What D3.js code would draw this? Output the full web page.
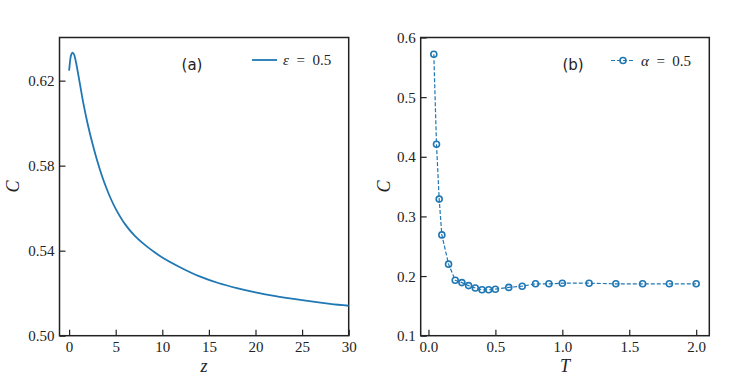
<!DOCTYPE html>
<html>
<head>
<meta charset="utf-8">
<script src="https://cdn.jsdelivr.net/npm/d3@7"></script>
<style>
  body { margin: 0; background: #fff; }
  .tick text { font-family: "Liberation Serif", "DejaVu Serif", serif; font-size: 15px; fill: #222; }
  .tick line { stroke: #222; stroke-width: 1.2; }
</style>
</head>
<body>
<div id="container-svg"></div>
<script>
// ---------------- data ----------------
// panel (a): C vs z, epsilon = 0.5
var z_vals = [0, 0.1, 0.2, 0.35, 0.5, 0.7, 1.0, 1.5, 2.0, 2.5, 3.0, 3.5, 4.0, 4.5, 5, 6, 7, 8, 9, 10, 12, 14, 16, 18, 20, 22, 25, 28, 30];
var c_a_vals = [0.6247, 0.6290, 0.6318, 0.6332, 0.6326, 0.6295, 0.6225, 0.6100, 0.5995, 0.5905, 0.5825, 0.5755, 0.5695, 0.5642, 0.5597, 0.5525, 0.5472, 0.5432, 0.5398, 0.5368, 0.5320, 0.5279, 0.5248, 0.5224, 0.5204, 0.5187, 0.5167, 0.5150, 0.5141];

// panel (b): C vs T, alpha = 0.5
var t_vals = [0.04, 0.06, 0.08, 0.10, 0.15, 0.20, 0.25, 0.30, 0.35, 0.40, 0.45, 0.50, 0.60, 0.70, 0.80, 0.90, 1.00, 1.20, 1.40, 1.60, 1.80, 2.00];
var c_b_vals = [0.572, 0.421, 0.329, 0.269, 0.220, 0.193, 0.189, 0.184, 0.180, 0.177, 0.177, 0.178, 0.181, 0.183, 0.187, 0.187, 0.188, 0.188, 0.187, 0.187, 0.187, 0.187];

var ticks_a_x = [0, 5, 10, 15, 20, 25, 30];
var ticks_a_y = [0.50, 0.54, 0.58, 0.62];
var ticks_b_x = [0.0, 0.5, 1.0, 1.5, 2.0];
var ticks_b_y = [0.1, 0.2, 0.3, 0.4, 0.5, 0.6];

var data_a = z_vals.map(function(z, i) { return {x: z, y: c_a_vals[i]}; });
var data_b = t_vals.map(function(t, i) { return {x: t, y: c_b_vals[i]}; });

var color_line = "#1f77b4",
    color_axis = "#222",
    font_serif = "'Liberation Serif', 'DejaVu Serif', serif";

// ---------------- svg ----------------
var svg_width = 747, svg_height = 386;
var svg = d3.select("#container-svg").append("svg")
    .attr("width", svg_width)
    .attr("height", svg_height);

var Y_TOP = 37.5, Y_BOT = 335.7;

function drawPanel(opt) {
    var g = svg.append("g");
    var sx = d3.scaleLinear().domain(opt.xdom).range([opt.x0, opt.x1]);
    var sy = d3.scaleLinear().domain(opt.ydom).range([Y_BOT, Y_TOP]);

    var ax = g.append("g")
        .attr("transform", "translate(0," + Y_BOT + ")")
        .call(d3.axisBottom(sx).tickValues(opt.xticks).tickFormat(opt.xfmt)
            .tickSizeInner(-6).tickSizeOuter(0).tickPadding(6));
    ax.select(".domain").remove();

    var ay = g.append("g")
        .attr("transform", "translate(" + opt.x0 + ",0)")
        .call(d3.axisLeft(sy).tickValues(opt.yticks).tickFormat(opt.yfmt)
            .tickSizeInner(-6).tickSizeOuter(0).tickPadding(5));
    ay.select(".domain").remove();
    ay.selectAll("text").attr("dy", "0.34em");

    g.selectAll(".tick text").style("font-family", font_serif).style("font-size", "15px");

    // frame
    g.append("rect")
        .attr("x", opt.x0).attr("y", Y_TOP)
        .attr("width", opt.x1 - opt.x0).attr("height", Y_BOT - Y_TOP)
        .attr("fill", "none").attr("stroke", color_axis).attr("stroke-width", 1.5);

    // axis labels
    g.append("text")
        .attr("x", (opt.x0 + opt.x1) / 2).attr("y", 372)
        .attr("text-anchor", "middle")
        .style("font-family", font_serif).style("font-style", "italic")
        .style("font-size", "18px").style("fill", color_axis)
        .text(opt.xlabel);
    g.append("text")
        .attr("transform", "translate(" + opt.ylabel_x + "," + ((Y_TOP + Y_BOT) / 2) + ") rotate(-90)")
        .attr("text-anchor", "middle")
        .style("font-family", font_serif).style("font-style", "italic")
        .style("font-size", "18px").style("fill", color_axis)
        .text("C");

    // panel tag
    g.append("text")
        .attr("x", opt.tag_x).attr("y", 65).attr("dy", "0.35em")
        .attr("text-anchor", "middle")
        .style("font-family", "'DejaVu Sans', sans-serif")
        .style("font-size", "15px").style("fill", color_axis)
        .text(opt.tag);

    return {g: g, sx: sx, sy: sy};
}

// ---------------- panel (a) ----------------
var pa = drawPanel({
    x0: 59.5, x1: 348.7, xdom: [-1.03, 30], ydom: [0.50, 0.6403],
    xticks: ticks_a_x, yticks: ticks_a_y,
    xfmt: d3.format("d"), yfmt: d3.format(".2f"),
    xlabel: "z", ylabel_x: 19, tag: "(a)", tag_x: 192
});

var line_a = d3.line()
    .x(function(d) { return pa.sx(d.x); })
    .y(function(d) { return pa.sy(d.y); })
    .curve(d3.curveCatmullRom.alpha(0.5));

pa.g.append("path")
    .datum(data_a)
    .attr("d", line_a)
    .attr("fill", "none")
    .attr("stroke", color_line)
    .attr("stroke-width", 1.8);

// legend (a)
pa.g.append("line")
    .attr("x1", 252).attr("x2", 277).attr("y1", 60).attr("y2", 60)
    .attr("stroke", color_line).attr("stroke-width", 1.8);
var lega = pa.g.append("text")
    .attr("x", 283).attr("y", 60).attr("dy", "0.35em")
    .style("font-family", font_serif).style("font-size", "15px").style("fill", color_axis);
lega.append("tspan").style("font-style", "italic").text("ε");
lega.append("tspan").text("\u2002=\u20020.5");

// ---------------- panel (b) ----------------
var pb = drawPanel({
    x0: 420.7, x1: 709.3, xdom: [-0.058, 2.098], ydom: [0.1, 0.6],
    xticks: ticks_b_x, yticks: ticks_b_y,
    xfmt: d3.format(".1f"), yfmt: d3.format(".1f"),
    xlabel: "T", ylabel_x: 390, tag: "(b)", tag_x: 573
});

var line_b = d3.line()
    .x(function(d) { return pb.sx(d.x); })
    .y(function(d) { return pb.sy(d.y); });

pb.g.append("path")
    .datum(data_b)
    .attr("d", line_b)
    .attr("fill", "none")
    .attr("stroke", color_line)
    .attr("stroke-width", 1.2)
    .attr("stroke-dasharray", "4,2");

pb.g.selectAll("circle.pt")
    .data(data_b)
    .enter()
    .append("circle")
    .attr("class", "pt")
    .attr("cx", function(d) { return pb.sx(d.x); })
    .attr("cy", function(d) { return pb.sy(d.y); })
    .attr("r", 3)
    .attr("fill", "none")
    .attr("stroke", color_line)
    .attr("stroke-width", 1.6);

// legend (b)
pb.g.append("line")
    .attr("x1", 611).attr("x2", 635).attr("y1", 60.5).attr("y2", 60.5)
    .attr("stroke", color_line).attr("stroke-width", 1.2).attr("stroke-dasharray", "4,2");
pb.g.append("circle")
    .attr("cx", 623).attr("cy", 60.5).attr("r", 3)
    .attr("fill", "none").attr("stroke", color_line).attr("stroke-width", 1.6);
var legb = pb.g.append("text")
    .attr("x", 641).attr("y", 60.5).attr("dy", "0.35em")
    .style("font-family", font_serif).style("font-size", "15px").style("fill", color_axis);
legb.append("tspan").style("font-style", "italic").text("α");
legb.append("tspan").text("\u2002=\u20020.5");
</script>
</body>
</html>
